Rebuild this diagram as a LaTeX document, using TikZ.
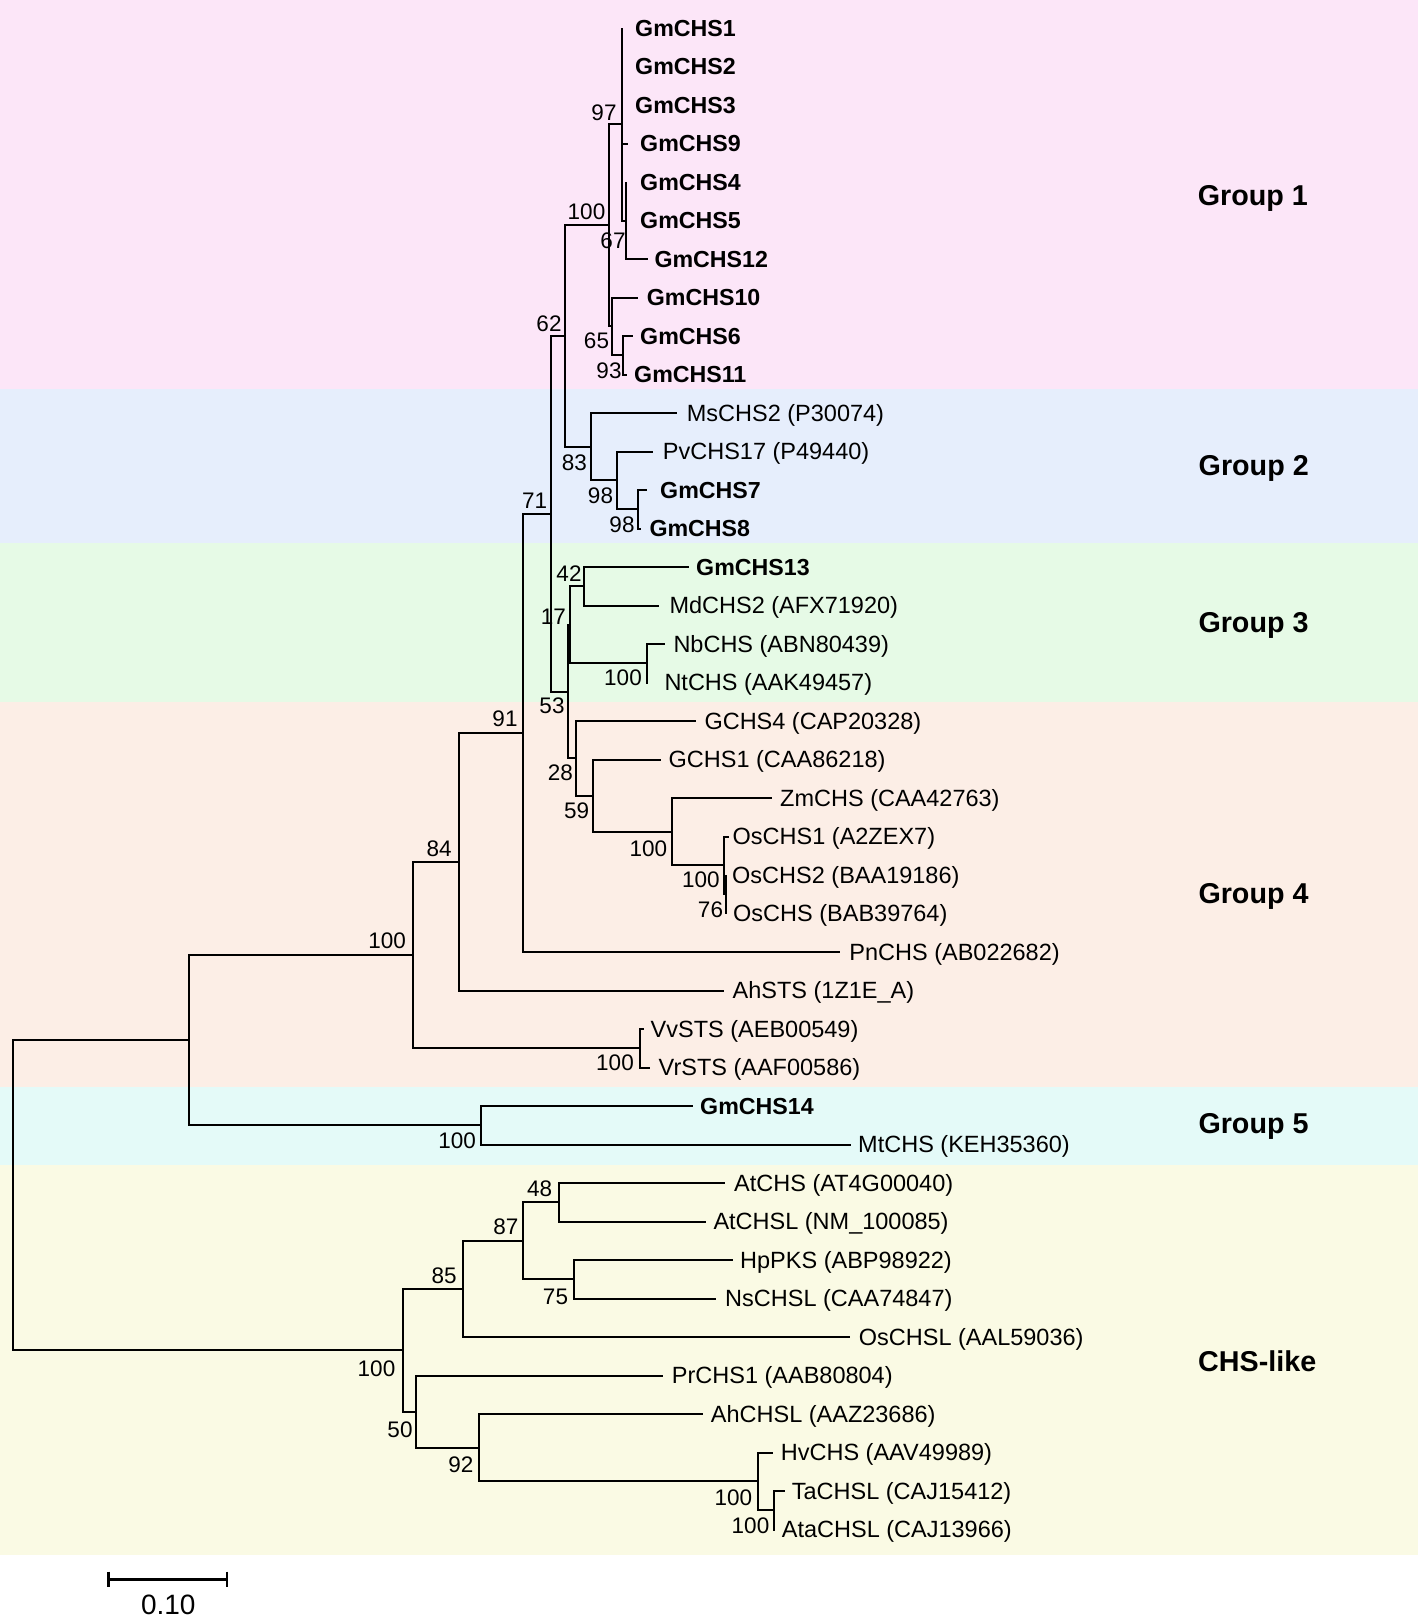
\documentclass[tikz,border=0pt]{standalone}
\usepackage{fontspec}
\setmainfont{Liberation Sans}
\definecolor{cgone}{HTML}{FCE6F8}
\definecolor{cgtwo}{HTML}{E6EEFC}
\definecolor{cgthree}{HTML}{E6FAE6}
\definecolor{cgfour}{HTML}{FCEEE6}
\definecolor{cgfive}{HTML}{E4FAF8}
\definecolor{cgsix}{HTML}{FAFAE4}
\begin{document}
\begin{tikzpicture}[x=1pt,y=-1pt,
  br/.style={line width=2pt, line join=miter},
  leaf/.style={anchor=west, inner sep=0pt, text height=16.8pt, text depth=0pt, font=\fontsize{23.5}{26}\selectfont},
  gm/.style={leaf, font=\fontsize{23.2}{26}\selectfont\bfseries},
  boot/.style={inner sep=0pt, text height=16.1pt, text depth=0pt, font=\fontsize{22.5}{25}\selectfont},
  grp/.style={inner sep=0pt, text height=20.5pt, text depth=0pt, font=\fontsize{28.7}{32}\selectfont\bfseries}]
\useasboundingbox (0,0) rectangle (1418,1620);
% background bands
\fill[cgone]   (0,0)      rectangle (1418,389);
\fill[cgtwo]   (0,389)    rectangle (1418,543);
\fill[cgthree] (0,543)    rectangle (1418,702);
\fill[cgfour]  (0,702)    rectangle (1418,1086.5);
\fill[cgfive]  (0,1086.5) rectangle (1418,1164.5);
\fill[cgsix]   (0,1164.5) rectangle (1418,1555);
% internal nodes
\coordinate (R)  at (626,220.5);
\coordinate (P)  at (621.7,124.25);
\coordinate (S)  at (623.3,355.25);
\coordinate (Q)  at (612.3,326.4);
\coordinate (H)  at (609.3,225.3);
\coordinate (U)  at (638.3,509.25);
\coordinate (T)  at (616.7,480.4);
\coordinate (I)  at (591,446.7);
\coordinate (G)  at (565,336);
\coordinate (L)  at (584,586.25);
\coordinate (M)  at (646.7,663.25);
\coordinate (K)  at (570,624.75);
\coordinate (X)  at (726.3,894.25);
\coordinate (W)  at (723.5,865.4);
\coordinate (V)  at (672.3,831.7);
\coordinate (O)  at (592.5,795.6);
\coordinate (N)  at (575.6,758.3);
\coordinate (J)  at (567.5,691.5);
\coordinate (E)  at (551,513.8);
\coordinate (D)  at (523.3,732.9);
\coordinate (C)  at (459.3,861.7);
\coordinate (VV) at (639.5,1048.25);
\coordinate (B)  at (412.7,955);
\coordinate (Y)  at (480.7,1125.25);
\coordinate (A)  at (189,1040.1);
\coordinate (AC) at (559,1202.25);
\coordinate (AD) at (573.5,1279.25);
\coordinate (AB) at (523.3,1240.75);
\coordinate (AA) at (463.3,1288.9);
\coordinate (AH) at (773.5,1510.25);
\coordinate (AG) at (758.3,1481.4);
\coordinate (AF) at (479.3,1447.7);
\coordinate (AE) at (415.7,1411.6);
\coordinate (Z)  at (402.7,1350.25);
\coordinate (RT) at (12.5,1195.2);
% leaf tips and labels
\coordinate (t0) at (621.7,28);    \node[gm] (n0) at (635,28) {GmCHS1};
\coordinate (t1) at (621.7,66.5);  \node[gm] (n1) at (635,66.5) {GmCHS2};
\coordinate (t2) at (621.7,105);   \node[gm] (n2) at (635,105) {GmCHS3};
\coordinate (t3) at (628.3,143.5); \node[gm] (n3) at (640,143.5) {GmCHS9};
\coordinate (t4) at (626,182);     \node[gm] (n4) at (640,182) {GmCHS4};
\coordinate (t5) at (626,220.5);   \node[gm] (n5) at (640,220.5) {GmCHS5};
\coordinate (t6) at (647.7,259);   \node[gm] (n6) at (654.3,259) {GmCHS12};
\coordinate (t7) at (638.3,297.5); \node[gm] (n7) at (646.7,297.5) {GmCHS10};
\coordinate (t8) at (633.3,336);   \node[gm] (n8) at (640,336) {GmCHS6};
\coordinate (t9) at (627.3,374.5); \node[gm] (n9) at (634,374.5) {GmCHS11};
\coordinate (t10) at (676.7,413);  \node[leaf] (n10) at (686.7,413) {MsCHS2 (P30074)};
\coordinate (t11) at (653.3,451.5);\node[leaf] (n11) at (662.7,451.5) {PvCHS17 (P49440)};
\coordinate (t12) at (646.7,490);  \node[gm] (n12) at (660,490) {GmCHS7};
\coordinate (t13) at (640.7,528.5);\node[gm] (n13) at (649.3,528.5) {GmCHS8};
\coordinate (t14) at (689.3,567);  \node[gm] (n14) at (696,567) {GmCHS13};
\coordinate (t15) at (659.3,605.5);\node[leaf] (n15) at (669.3,605.5) {MdCHS2 (AFX71920)};
\coordinate (t16) at (665,644);    \node[leaf] (n16) at (673.3,644) {NbCHS (ABN80439)};
\coordinate (t17) at (648.3,682.5);\node[leaf] (n17) at (664.3,682.5) {NtCHS (AAK49457)};
\coordinate (t18) at (696,721);    \node[leaf] (n18) at (704.3,721) {GCHS4 (CAP20328)};
\coordinate (t19) at (660.5,759.5);\node[leaf] (n19) at (668.5,759.5) {GCHS1 (CAA86218)};
\coordinate (t20) at (771.5,798);  \node[leaf] (n20) at (780,798) {ZmCHS (CAA42763)};
\coordinate (t21) at (729,836.5);  \node[leaf] (n21) at (732.5,836.5) {OsCHS1 (A2ZEX7)};
\coordinate (t22) at (726.3,875);  \node[leaf] (n22) at (732,875) {OsCHS2 (BAA19186)};
\coordinate (t23) at (726.3,913.5);\node[leaf] (n23) at (733,913.5) {OsCHS (BAB39764)};
\coordinate (t24) at (839.5,952);  \node[leaf] (n24) at (849.2,952) {PnCHS (AB022682)};
\coordinate (t25) at (724.3,990.5);\node[leaf] (n25) at (732.5,990.5) {AhSTS (1Z1E\_A)};
\coordinate (t26) at (643.5,1029); \node[leaf] (n26) at (650.5,1029) {VvSTS (AEB00549)};
\coordinate (t27) at (650,1067.5); \node[leaf] (n27) at (658.5,1067.5) {VrSTS (AAF00586)};
\coordinate (t28) at (693,1106);   \node[gm] (n28) at (700,1106) {GmCHS14};
\coordinate (t29) at (851,1144.5); \node[leaf] (n29) at (858,1144.5) {MtCHS (KEH35360)};
\coordinate (t30) at (725,1183);   \node[leaf] (n30) at (734,1183) {AtCHS (AT4G00040)};
\coordinate (t31) at (706,1221.5); \node[leaf] (n31) at (713.3,1221.5) {AtCHSL (NM\_100085)};
\coordinate (t32) at (732.7,1260); \node[leaf] (n32) at (740,1260) {HpPKS (ABP98922)};
\coordinate (t33) at (716,1298.5); \node[leaf] (n33) at (725,1298.5) {NsCHSL (CAA74847)};
\coordinate (t34) at (850,1337);   \node[leaf] (n34) at (858.7,1337) {OsCHSL (AAL59036)};
\coordinate (t35) at (663.3,1375.5);\node[leaf] (n35) at (671.7,1375.5) {PrCHS1 (AAB80804)};
\coordinate (t36) at (703.3,1414); \node[leaf] (n36) at (710.7,1414) {AhCHSL (AAZ23686)};
\coordinate (t37) at (772.7,1452.5);\node[leaf] (n37) at (780.7,1452.5) {HvCHS (AAV49989)};
\coordinate (t38) at (785,1491);   \node[leaf] (n38) at (791.7,1491) {TaCHSL (CAJ15412)};
\coordinate (t39) at (775,1529.5); \node[leaf] (n39) at (781.7,1529.5) {AtaCHSL (CAJ13966)};
% branches
\foreach \p/\c in {RT/A, RT/Z, A/B, A/Y, B/C, B/VV, C/D, C/t25, D/E, D/t24,
  E/G, E/J, G/H, G/I, H/P, H/Q, P/t0, P/t1, P/t2, P/t3, P/R, R/t4, R/t5, R/t6,
  Q/t7, Q/S, S/t8, S/t9, I/t10, I/T, T/t11, T/U, U/t12, U/t13,
  J/K, J/N, K/L, K/M, L/t14, L/t15, M/t16, M/t17, N/t18, N/O, O/t19, O/V,
  V/t20, V/W, W/t21, W/X, X/t22, X/t23, VV/t26, VV/t27, Y/t28, Y/t29,
  Z/AA, Z/AE, AA/AB, AA/t34, AB/AC, AB/AD, AC/t30, AC/t31, AD/t32, AD/t33,
  AE/t35, AE/AF, AF/t36, AF/AG, AG/t37, AG/AH, AH/t38, AH/t39}
  \draw[br] (\p) |- (\c);
% bootstrap values
\node[boot] (bP)  at (604,112.5) {97};
\node[boot] (bH)  at (586.5,211.7) {100};
\node[boot] (bR)  at (613,240) {67};
\node[boot] (bG)  at (549,323.5) {62};
\node[boot] (bQ)  at (596.5,340) {65};
\node[boot] (bS)  at (609,370) {93};
\node[boot] (bI)  at (574.3,462) {83};
\node[boot] (bT)  at (600.5,495.5) {98};
\node[boot] (bU)  at (622,524.7) {98};
\node[boot] (bE)  at (534.7,500.8) {71};
\node[boot] (bL)  at (569,573) {42};
\node[boot] (bK)  at (553.3,616) {17};
\node[boot] (bM)  at (623,677.5) {100};
\node[boot] (bJ)  at (552,705) {53};
\node[boot] (bD)  at (505,718.5) {91};
\node[boot] (bN)  at (560.3,772) {28};
\node[boot] (bO)  at (576.7,810.8) {59};
\node[boot] (bV)  at (648.3,848) {100};
\node[boot] (bW)  at (700.8,879) {100};
\node[boot] (bX)  at (710.5,909) {76};
\node[boot] (bC)  at (439.2,848.3) {84};
\node[boot] (bB)  at (387.2,940.5) {100};
\node[boot] (bVV) at (615,1062.5) {100};
\node[boot] (bY)  at (457.2,1140.5) {100};
\node[boot] (bAC) at (539.7,1188.7) {48};
\node[boot] (bAB) at (505.8,1226) {87};
\node[boot] (bAA) at (444.2,1275.7) {85};
\node[boot] (bAD) at (555.5,1296.7) {75};
\node[boot] (bZ)  at (376.5,1368) {100};
\node[boot] (bAE) at (400,1429.5) {50};
\node[boot] (bAF) at (460.8,1464.2) {92};
\node[boot] (bAG) at (733.3,1497.5) {100};
\node[boot] (bAH) at (750.5,1525.8) {100};
% group labels
\node[grp] (g1) at (1252.8,195) {Group 1};
\node[grp] (g2) at (1253.7,465) {Group 2};
\node[grp] (g3) at (1253.5,622) {Group 3};
\node[grp] (g4) at (1253.5,893) {Group 4};
\node[grp] (g5) at (1253.5,1123) {Group 5};
\node[grp] (g6) at (1257.2,1361) {CHS-like};
% scale bar
\coordinate (s1) at (108.3,1579.3);
\coordinate (s2) at (226.7,1579.3);
\draw[line width=2.6pt] (s1) -- (s2);
\draw[line width=2.4pt] ([yshift=7.8pt]s1) -- ([yshift=-7.8pt]s1);
\draw[line width=2.4pt] ([yshift=7.8pt]s2) -- ([yshift=-7.8pt]s2);
\node[inner sep=0pt, text height=19.7pt, text depth=0pt, font=\fontsize{28}{31}\selectfont] (sbl) at (168.3,1605) {0.10};
\end{tikzpicture}
\end{document}
